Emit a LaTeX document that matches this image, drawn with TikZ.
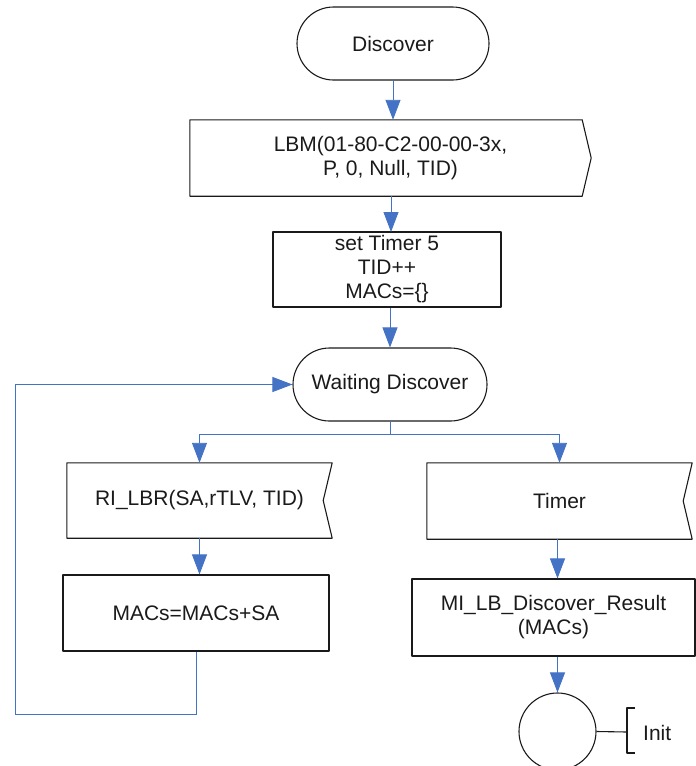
\documentclass[tikz,border=0pt]{standalone}
\usepackage{fontspec}
\setmainfont{Liberation Sans}
\usepackage{xcolor}
\usepackage{tikz}
\usetikzlibrary{calc,arrows.meta,shapes.misc}
\definecolor{ink}{HTML}{1A1A1A}
\definecolor{flow}{HTML}{4472C4}
\tikzset{
  base/.style={draw=ink, line width=1.1pt, line join=round},
  flowline/.style={draw=flow, line width=0.9pt},
  flowarr/.style={flowline, -{Triangle[length=20pt,width=15pt]}},
  txt/.style={text=ink, font=\fontsize{21}{24}\selectfont, align=center, inner sep=0pt},
  term/.style={txt, base, rounded rectangle, minimum width=#1, minimum height=73pt},
  procbox/.style={txt, base, rectangle, minimum width=#1, minimum height=76pt},
  sigbox/.style={txt, rectangle, minimum width=#1, minimum height=76pt},
}

\begin{document}
\begin{tikzpicture}[x=1pt, y=-1pt]
  \useasboundingbox (0,0) rectangle (696,766);

  \node[term=192pt] (discover) at (393,43.5) {Discover};
  \node[sigbox=401pt] (lbm) at (390.5,158) {LBM(01-80-C2-00-00-3x,\\P, 0, Null, TID)};
  \node[procbox=228pt, minimum height=75pt] (settimer) at (387,269.5) {set Timer 5\\TID++\\MACs=\{\}};
  \node[term=194pt] (waiting) at (390,384.5) {Waiting Discover};
  \node[sigbox=265pt, minimum height=75pt] (rilbr) at (199.5,500.5) {RI\_LBR(SA,rTLV, TID)};
  \node[sigbox=265pt] (timer) at (559.5,501) {Timer};
  \node[procbox=266pt] (macs) at (196,613) {MACs=MACs+SA};
  \node[procbox=283pt, minimum height=77pt] (result) at (553.5,617.5) {MI\_LB\_Discover\_Result\\(MACs)};
  \node[base, circle, minimum size=77pt, inner sep=0pt] (endc) at (557.5,731.5) {};
  \node[txt, anchor=west] (init) at (643,733) {Init};

  \draw[base] (lbm.north west) -- ([xshift=-9pt]lbm.north east) -- (lbm.east)
    -- ([xshift=-9pt]lbm.south east) -- (lbm.south west) -- cycle;
  \draw[base] (rilbr.north west) -- (rilbr.north east) -- ([xshift=-9pt]rilbr.east)
    -- (rilbr.south east) -- (rilbr.south west) -- cycle;
  \draw[base] (timer.north west) -- (timer.north east) -- ([xshift=-9pt]timer.east)
    -- (timer.south east) -- (timer.south west) -- cycle;

  \coordinate (split) at (390,434);
  \coordinate (loopbl) at (15,714);
  \coordinate (initbr) at (627,732);

  \draw[flowarr] (discover.south) -- (discover.south |- lbm.north);
  \draw[flowarr] (391,196) -- (391,232);
  \draw[flowarr] (settimer.south -| waiting.north) -- (waiting.north);
  \draw[flowarr] (waiting.south) -- (split) -| (rilbr.north);
  \draw[flowarr] (waiting.south) -- (split) -| (timer.north);
  \draw[flowarr] (rilbr.south) -- (rilbr.south |- macs.north);
  \draw[flowarr] (macs.south) |- (loopbl) |- (waiting.west);
  \draw[flowarr] (timer.south -| endc.north) -- (endc.north |- result.north);
  \draw[flowarr] (result.south -| endc.north) -- (endc.north);

  \draw[base] (endc.east) -- (initbr);
  \draw[base] ($(initbr)+(8,-24)$) -- ++(-8,0) -- ++(0,45) -- ++(8,0);
\end{tikzpicture}
\end{document}
